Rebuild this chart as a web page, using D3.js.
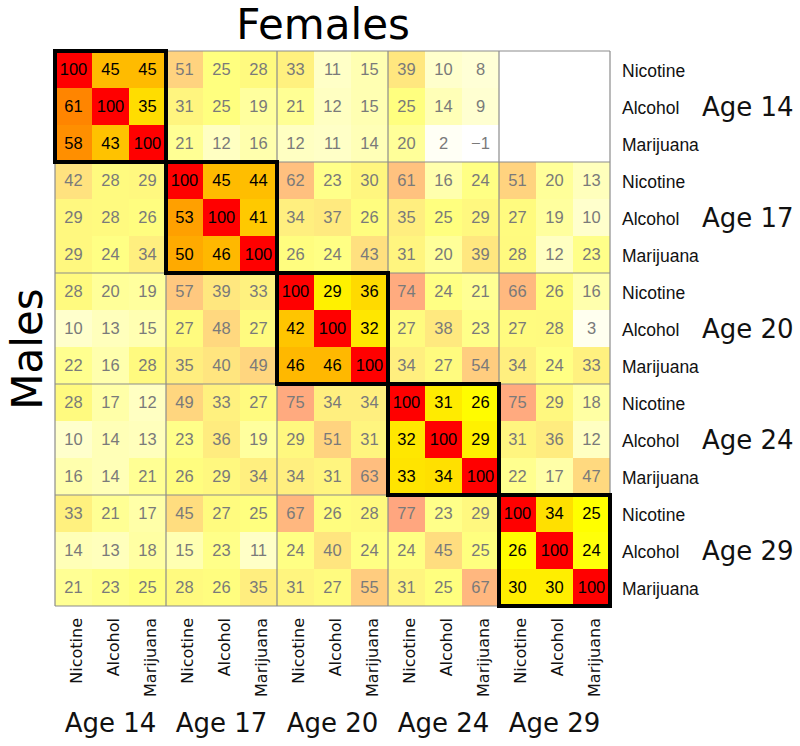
<!DOCTYPE html>
<html>
<head>
<meta charset="utf-8">
<script src="https://cdn.jsdelivr.net/npm/d3@7"></script>
<style>
  html, body { margin: 0; padding: 0; background: #fff; }
  svg { display: block; }
</style>
</head>
<body>
<svg id="chart" width="800" height="746"></svg>
<script>
// ---- Data ----
const substances = ["Nicotine", "Alcohol", "Marijuana"];
const ages = ["Age 14", "Age 17", "Age 20", "Age 24", "Age 29"];

// Each block: 3 rows (Nicotine, Alcohol, Marijuana) x 15 columns
// Upper triangle = Females, lower triangle = Males; null = no data
const rowsAge14 = [
  [100, 45, 45, 51, 25, 28, 33, 11, 15, 39, 10, 8, null, null, null],
  [61, 100, 35, 31, 25, 19, 21, 12, 15, 25, 14, 9, null, null, null],
  [58, 43, 100, 21, 12, 16, 12, 11, 14, 20, 2, -1, null, null, null]
];
const rowsAge17 = [
  [42, 28, 29, 100, 45, 44, 62, 23, 30, 61, 16, 24, 51, 20, 13],
  [29, 28, 26, 53, 100, 41, 34, 37, 26, 35, 25, 29, 27, 19, 10],
  [29, 24, 34, 50, 46, 100, 26, 24, 43, 31, 20, 39, 28, 12, 23]
];
const rowsAge20 = [
  [28, 20, 19, 57, 39, 33, 100, 29, 36, 74, 24, 21, 66, 26, 16],
  [10, 13, 15, 27, 48, 27, 42, 100, 32, 27, 38, 23, 27, 28, 3],
  [22, 16, 28, 35, 40, 49, 46, 46, 100, 34, 27, 54, 34, 24, 33]
];
const rowsAge24 = [
  [28, 17, 12, 49, 33, 27, 75, 34, 34, 100, 31, 26, 75, 29, 18],
  [10, 14, 13, 23, 36, 19, 29, 51, 31, 32, 100, 29, 31, 36, 12],
  [16, 14, 21, 26, 29, 34, 34, 31, 63, 33, 34, 100, 22, 17, 47]
];
const rowsAge29 = [
  [33, 21, 17, 45, 27, 25, 67, 26, 28, 77, 23, 29, 100, 34, 25],
  [14, 13, 18, 15, 23, 11, 24, 40, 24, 24, 45, 25, 26, 100, 24],
  [21, 23, 25, 28, 26, 35, 31, 27, 55, 31, 25, 67, 30, 30, 100]
];

const matrix = [].concat(rowsAge14, rowsAge17, rowsAge20, rowsAge24, rowsAge29);
const n = matrix.length;

// ---- Layout ----
const svg = d3.select("#chart");
const idx = d3.range(n);
const x = d3.scaleBand().domain(idx).range([55, 610]);
const y = d3.scaleBand().domain(idx).range([51, 606]);
const bx = d3.scaleBand().domain(d3.range(ages.length)).range([55, 610]);
const by = d3.scaleBand().domain(d3.range(ages.length)).range([51, 606]);

// reversed heat palette: 0 -> white, 25 -> yellow, 100 -> red
const color = d3.scaleLinear()
  .domain([0, 25, 100])
  .range(["#ffffff", "#ffff00", "#ff0000"])
  .clamp(true);

const cells = [];
matrix.forEach((row, i) => row.forEach((v, j) => {
  if (v !== null) cells.push({ i, j, v, diag: Math.floor(i / 3) === Math.floor(j / 3) });
}));

const g = svg.append("g");
g.selectAll("rect.cell").data(cells).join("rect")
  .attr("class", "cell")
  .attr("x", d => x(d.j))
  .attr("y", d => y(d.i))
  .attr("width", x.bandwidth())
  .attr("height", y.bandwidth())
  .attr("fill", d => color(d.v))
  .attr("fill-opacity", d => d.diag ? 1 : 0.5);

g.selectAll("text.val").data(cells).join("text")
  .attr("class", "val")
  .attr("x", d => x(d.j) + x.bandwidth() / 2)
  .attr("y", d => y(d.i) + y.bandwidth() / 2)
  .attr("dy", "0.36em")
  .attr("text-anchor", "middle")
  .attr("font-family", "'Liberation Sans', Arial, sans-serif")
  .attr("font-size", 16.5)
  .attr("fill", d => d.diag ? "#000" : "#7a7a7a")
  .text(d => d.v < 0 ? "\u2212" + Math.abs(d.v) : d.v);

// block grid lines
const bounds = d3.range(ages.length + 1).map(k => k < ages.length ? bx(k) : bx.range()[1]);
const bbounds = d3.range(ages.length + 1).map(k => k < ages.length ? by(k) : by.range()[1]);
g.selectAll("line.v").data(bounds).join("line")
  .attr("x1", d => d).attr("x2", d => d)
  .attr("y1", by.range()[0]).attr("y2", by.range()[1])
  .attr("stroke", "#8c8c8c").attr("stroke-width", 1.2);
g.selectAll("line.h").data(bbounds).join("line")
  .attr("y1", d => d).attr("y2", d => d)
  .attr("x1", bx.range()[0]).attr("x2", bx.range()[1])
  .attr("stroke", "#8c8c8c").attr("stroke-width", 1.2);

// thick diagonal blocks
g.selectAll("rect.blk").data(d3.range(ages.length)).join("rect")
  .attr("x", k => bx(k)).attr("y", k => by(k))
  .attr("width", bx.bandwidth()).attr("height", by.bandwidth())
  .attr("fill", "none").attr("stroke", "#000").attr("stroke-width", 4);

// right labels
svg.append("g").selectAll("text").data(idx).join("text")
  .attr("x", 622)
  .attr("y", i => y(i) + y.bandwidth() / 2)
  .attr("dy", "0.42em")
  .attr("font-family", "'Liberation Sans', Arial, sans-serif")
  .attr("font-size", 17.5)
  .attr("fill", "#111")
  .text(i => substances[i % 3]);

svg.append("g").selectAll("text").data(ages).join("text")
  .attr("x", 702)
  .attr("y", (d, k) => by(k) + by.bandwidth() / 2)
  .attr("dy", "0.36em")
  .attr("font-family", "'DejaVu Sans', sans-serif")
  .attr("font-size", 26)
  .attr("fill", "#111")
  .text(d => d);

// bottom labels
svg.append("g").selectAll("text").data(idx).join("text")
  .attr("transform", i => `translate(${x(i) + x.bandwidth() / 2},618) rotate(-90)`)
  .attr("y", 8)
  .attr("text-anchor", "end")
  .attr("font-family", "'DejaVu Sans', sans-serif")
  .attr("font-size", 16)
  .attr("fill", "#111")
  .text(i => substances[i % 3]);

svg.append("g").selectAll("text").data(ages).join("text")
  .attr("x", (d, k) => bx(k) + bx.bandwidth() / 2)
  .attr("y", 732)
  .attr("text-anchor", "middle")
  .attr("font-family", "'DejaVu Sans', sans-serif")
  .attr("font-size", 26)
  .attr("fill", "#111")
  .text(d => d);

// titles
svg.append("text")
  .attr("x", 323).attr("y", 39)
  .attr("text-anchor", "middle")
  .attr("font-family", "'DejaVu Sans', sans-serif")
  .attr("font-size", 42)
  .attr("fill", "#000")
  .text("Females");

svg.append("text")
  .attr("transform", "translate(42,349) rotate(-90)")
  .attr("text-anchor", "middle")
  .attr("font-family", "'DejaVu Sans', sans-serif")
  .attr("font-size", 42)
  .attr("fill", "#000")
  .text("Males");
</script>
</body>
</html>
